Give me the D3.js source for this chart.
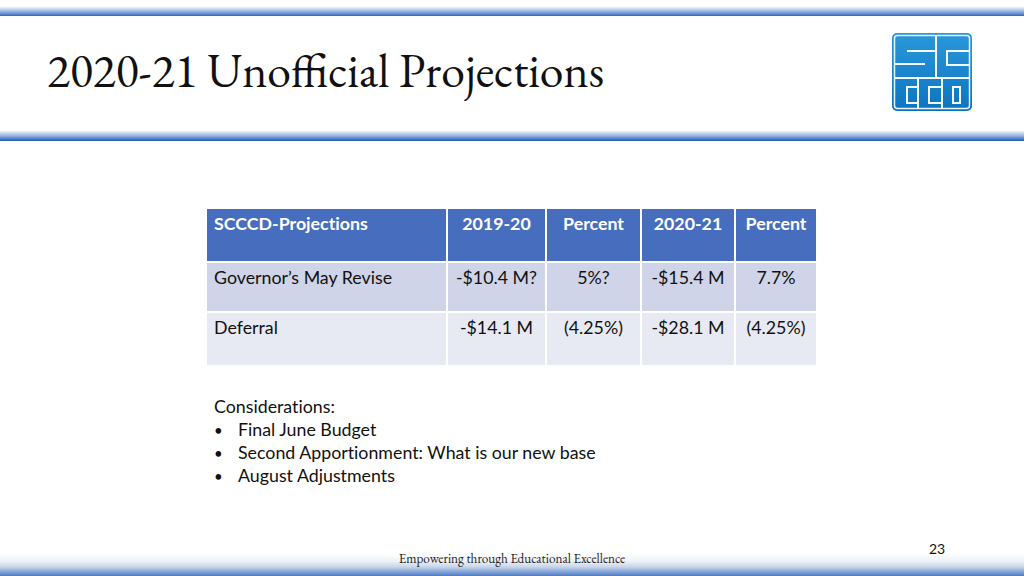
<!DOCTYPE html>
<html>
<head>
<meta charset="utf-8">
<script src="https://cdn.jsdelivr.net/npm/d3@7/dist/d3.min.js"></script>
<style>
  html, body { margin: 0; padding: 0; background: #fff; }
  svg { display: block; }
  text { font-variant-ligatures: none; }
  text.title { font-variant-ligatures: normal; }
</style>
</head>
<body>
<svg id="chart" width="1024" height="576"></svg>
<script>
// ---- data ----
const title = "2020-21 Unofficial Projections";
const columns = ["SCCCD-Projections", "2019-20", "Percent", "2020-21", "Percent"];
const rowLabels = ["Governor’s May Revise", "Deferral"];
const values1920 = ["-$10.4 M?", "-$14.1 M"];
const percent1920 = ["5%?", "(4.25%)"];
const values2021 = ["-$15.4 M", "-$28.1 M"];
const percent2021 = ["7.7%", "(4.25%)"];
const considerationsHead = "Considerations:";
const considerations = ["Final June Budget", "Second Apportionment: What is our new base", "August Adjustments"];
const footer = "Empowering through Educational Excellence";
const pageNumber = "23";

// ---- layout ----
const svg = d3.select("#chart");
const defs = svg.append("defs");

function vGrad(id, stops) {
  const g = defs.append("linearGradient").attr("id", id)
    .attr("x1", 0).attr("y1", 0).attr("x2", 0).attr("y2", 1);
  stops.forEach(s => g.append("stop").attr("offset", s[0]).attr("stop-color", s[1]));
}
vGrad("barTop", [[0, "#eef2fa"], [0.4, "#a9c0e6"], [0.8, "#5d87cf"], [1, "#2f62b5"]]);
vGrad("barMid", [[0, "#eef2fa"], [0.4, "#a6bee5"], [0.8, "#4d7bc9"], [1, "#1d58b0"]]);
vGrad("barBot", [[0, "#ffffff"], [0.35, "#eef2f6"], [0.6, "#c9d6ea"], [0.8, "#8aa8d8"], [1, "#4c7cc6"]]);
vGrad("logoFill", [[0, "#2a98da"], [1, "#0b74c0"]]);

svg.append("rect").attr("x", 0).attr("y", 7).attr("width", 1024).attr("height", 9).attr("fill", "url(#barTop)");
svg.append("rect").attr("x", 0).attr("y", 131).attr("width", 1024).attr("height", 10).attr("fill", "url(#barMid)");
svg.append("rect").attr("x", 0).attr("y", 553).attr("width", 1024).attr("height", 23).attr("fill", "url(#barBot)");

// title
svg.append("text").attr("class", "title").attr("x", 47).attr("y", 87)
  .attr("font-family", "'EB Garamond', Garamond, 'Liberation Serif', serif")
  .attr("font-size", 47.7).attr("fill", "#111")
  .text(title);

// logo
const logo = svg.append("g").attr("transform", "translate(892,33)");
logo.append("rect").attr("width", 80).attr("height", 78).attr("rx", 5).attr("fill", "url(#logoFill)");
logo.append("rect").attr("x", 2.5).attr("y", 2.5).attr("width", 75).attr("height", 73).attr("rx", 3)
  .attr("fill", "none").attr("stroke", "#e8f3fb").attr("stroke-width", 1.5);
const lp = [
  "M44,3 V44",            // divider S|C
  "M3,45 H77",            // top/bottom divider
  "M15,18 H44",           // S upper slot (from right)
  "M3,31 H33",            // S lower slot (from left)
  "M77,18 H55 V32 H77",   // C top
  "M26,45 V76", "M50,45 V76", // bottom cell dividers
  "M26,54 H15 V70 H26",   // C bottom 1
  "M50,54 H37 V70 H50",   // C bottom 2
  "M61,54 H68 V70 H61 Z"  // D
];
logo.append("g").selectAll("path").data(lp).join("path")
  .attr("d", d => d).attr("fill", "none").attr("stroke", "#f2f8fd").attr("stroke-width", 2);

// table
const colEdges = [207, 448, 547, 642, 736, 818];
const headerTop = 209, headerH = 52;
const rowTops = [263, 313];
const rowHs = [48, 52];
const gap = 2;
const xCol = d3.scaleOrdinal().domain(d3.range(columns.length)).range(colEdges.slice(0, -1));
const wCol = i => colEdges[i + 1] - colEdges[i] - gap;

const font = "Lato, 'Open Sans', sans-serif";
const fs = 17.8;
const head = svg.append("g");
head.selectAll("rect").data(columns).join("rect")
  .attr("x", (d, i) => xCol(i)).attr("y", headerTop)
  .attr("width", (d, i) => wCol(i)).attr("height", headerH)
  .attr("fill", "#476dbe");
head.selectAll("text").data(columns).join("text")
  .attr("x", (d, i) => i === 0 ? xCol(i) + 7 : xCol(i) + wCol(i) / 2)
  .attr("y", headerTop + 21)
  .attr("text-anchor", (d, i) => i === 0 ? "start" : "middle")
  .attr("font-family", font).attr("font-weight", 700).attr("font-size", fs).attr("fill", "#fff")
  .text(d => d);

const rows = rowLabels.map((lab, r) => [lab, values1920[r], percent1920[r], values2021[r], percent2021[r]]);
const rowFill = ["#cfd4e8", "#e8eaf3"];
rows.forEach((row, r) => {
  const g = svg.append("g");
  g.selectAll("rect").data(row).join("rect")
    .attr("x", (d, i) => xCol(i)).attr("y", rowTops[r])
    .attr("width", (d, i) => wCol(i)).attr("height", rowHs[r])
    .attr("fill", rowFill[r]);
  g.selectAll("text").data(row).join("text")
    .attr("x", (d, i) => i === 0 ? xCol(i) + 7 : xCol(i) + wCol(i) / 2)
    .attr("y", rowTops[r] + 21)
    .attr("text-anchor", (d, i) => i === 0 ? "start" : "middle")
    .attr("font-family", font).attr("font-size", fs).attr("fill", "#111")
    .text(d => d);
});

// considerations
const cons = svg.append("g").attr("font-family", font).attr("font-size", fs).attr("fill", "#111");
cons.append("text").attr("x", 214).attr("y", 413).text(considerationsHead);
const yLine = d3.scaleLinear().domain([0, 1]).range([436, 459]);
cons.selectAll("text.b").data(considerations).join("text").attr("class", "b")
  .attr("x", 214).attr("y", (d, i) => yLine(i)).attr("font-size", 15).text("•");
cons.selectAll("text.t").data(considerations).join("text").attr("class", "t")
  .attr("x", 238).attr("y", (d, i) => yLine(i)).text(d => d);

// footer
svg.append("text").attr("x", 512).attr("y", 563).attr("text-anchor", "middle")
  .attr("font-family", "'EB Garamond', Garamond, 'Liberation Serif', serif").attr("font-size", 13.2).attr("fill", "#222")
  .text(footer);
svg.append("text").attr("x", 937).attr("y", 554).attr("text-anchor", "middle")
  .attr("font-family", font).attr("font-size", 14).attr("fill", "#111")
  .text(pageNumber);
</script>
</body>
</html>
